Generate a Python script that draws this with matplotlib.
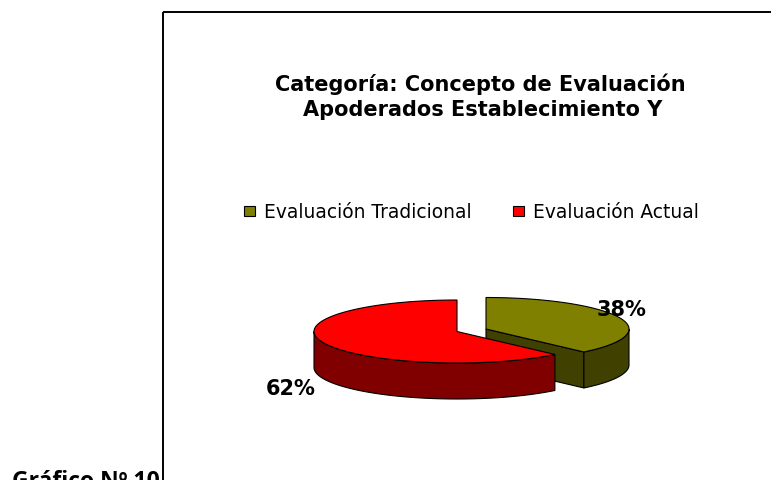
import numpy as np
from matplotlib import pyplot as plt
from matplotlib.patches import Polygon, Rectangle

categories = ['Evaluación Tradicional', 'Evaluación Actual']
values = [38, 62]
labels = ['38%', '62%']
top_colors = ['#808000', '#ff0000']
side_colors = ['#404000', '#800000']

RX, RY, DEPTH = 143, 31.5, 36


def rim(cx, cy, a0, a1, dy=0):
    # angles are clockwise from 12 o'clock, y axis points down
    t = np.radians(np.linspace(a0, a1, 200))
    return np.column_stack([cx + RX * np.sin(t), cy - RY * np.cos(t) + dy])


def poly(ax, pts, color):
    ax.add_patch(Polygon(pts, closed=True, facecolor=color, edgecolor='black', linewidth=0.8))


fig = plt.figure(figsize=(7.71, 4.81), dpi=100)
ax = fig.add_axes([0, 0, 1, 1])
ax.set_xlim(0, 771)
ax.set_ylim(481, 0)
ax.axis('off')

ang = values[0] / sum(values) * 360

# olive slice, pulled out to the right
cx, cy = 486, 330
end = rim(cx, cy, ang, ang)[0]
poly(ax, [(cx, cy), tuple(end), (end[0], end[1] + DEPTH), (cx, cy + DEPTH)], side_colors[0])
front = rim(cx, cy, 90, ang)
poly(ax, np.vstack([front, rim(cx, cy, ang, 90, DEPTH)]), side_colors[0])
poly(ax, np.vstack([[(cx, cy)], rim(cx, cy, 0, ang)]), top_colors[0])

# red slice
cx, cy = 457, 332.5
front = rim(cx, cy, ang, 270)
poly(ax, np.vstack([front, rim(cx, cy, 270, ang, DEPTH)]), side_colors[1])
poly(ax, np.vstack([[(cx, cy)], rim(cx, cy, ang, 360)]), top_colors[1])

# frame
ax.plot([163, 163], [481, 13], color='black', lw=1.4, solid_capstyle='butt')
ax.plot([163, 771], [13, 13], color='black', lw=1.4, solid_capstyle='butt')

ax.text(480, 84, 'Categoría: Concepto de Evaluación', ha='center', va='center',
        family='DejaVu Sans', weight='bold', fontsize=15)
ax.text(483, 110, 'Apoderados Establecimiento Y', ha='center', va='center',
        family='DejaVu Sans', weight='bold', fontsize=15)

# legend
for x, c, name, tx in zip([244, 513], top_colors, categories, [264, 533]):
    ax.add_patch(Rectangle((x, 207), 11, 10, facecolor=c, edgecolor='black', linewidth=0.8))
    ax.text(tx, 212.5, name, ha='left', va='center', family='DejaVu Sans', fontsize=13.4)

ax.text(621.5, 310, labels[0], ha='center', va='center', family='DejaVu Sans',
        weight='bold', fontsize=15)
ax.text(290.5, 389, labels[1], ha='center', va='center', family='DejaVu Sans',
        weight='bold', fontsize=15)

ax.text(160, 488, 'Gráfico Nº 10', ha='right', va='baseline', family='Open Sans',
        weight='bold', fontsize=16.5)

fig.savefig('out.png', dpi=100)
